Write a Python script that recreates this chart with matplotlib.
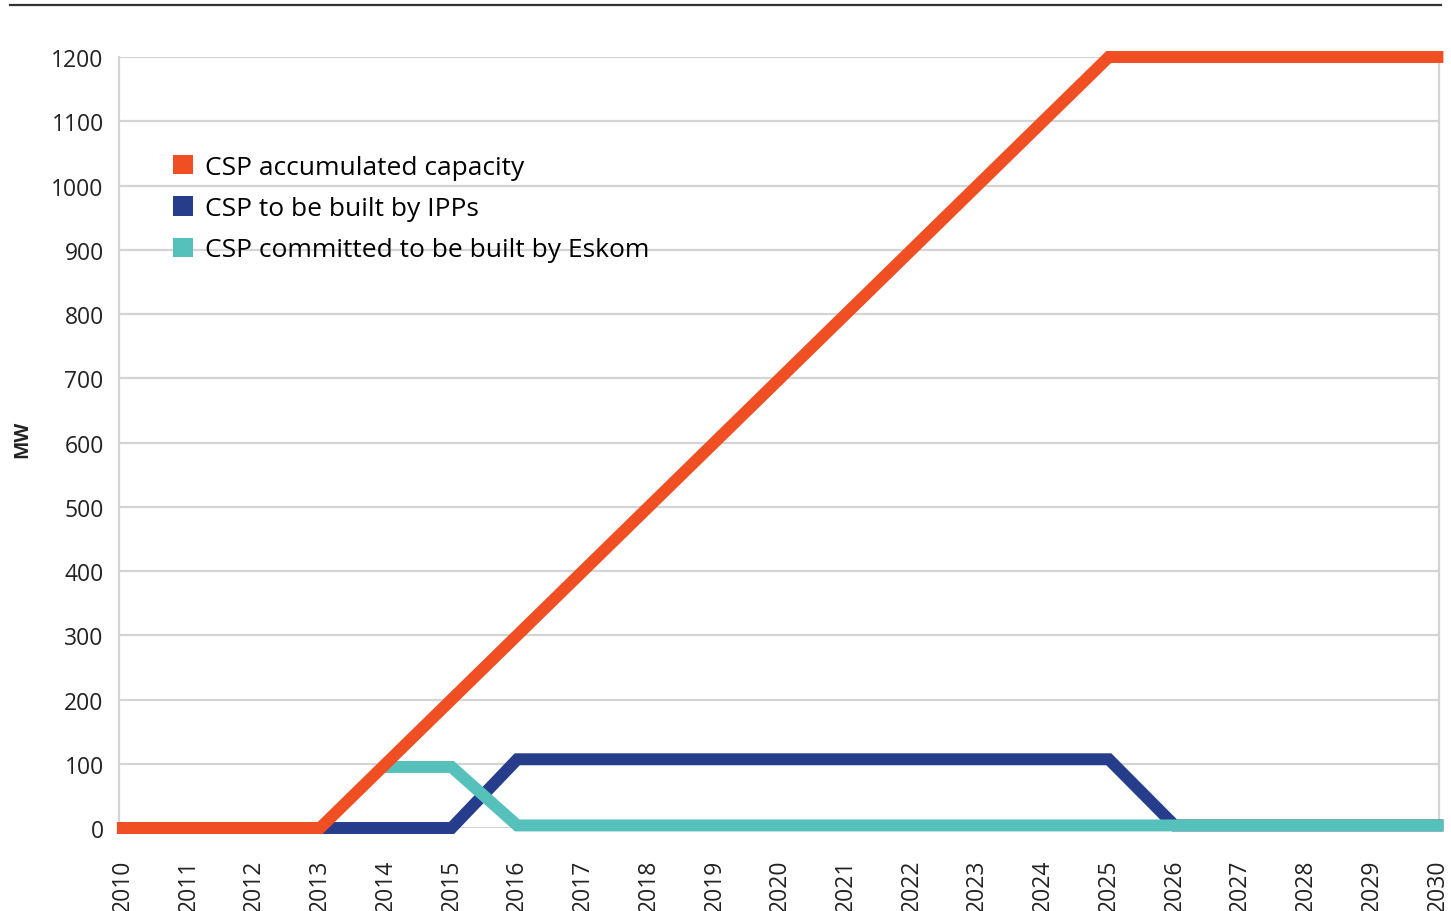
import matplotlib.pyplot as plt
from matplotlib.lines import Line2D
from matplotlib.patches import Patch

plt.rcParams['font.family'] = ['Open Sans', 'DejaVu Sans']

years = list(range(2010, 2031))
accumulated = [0, 0, 0, 0, 100, 200, 300, 400, 500, 600, 700, 800, 900,
               1000, 1100, 1200, 1200, 1200, 1200, 1200, 1200]
ipps = [0, 0, 0, 0, 0, 0, 107, 107, 107, 107, 107, 107, 107,
        107, 107, 107, 4, 4, 4, 4, 4]
eskom_years = list(range(2014, 2031))
eskom = [95, 95, 4, 4, 4, 4, 4, 4, 4, 4, 4, 4, 4, 4, 4, 4, 4]

labels = ['CSP accumulated capacity', 'CSP to be built by IPPs',
          'CSP committed to be built by Eskom']
colors = ['#F04E23', '#263D8C', '#55C1BA']

fig = plt.figure(figsize=(14.51, 9.12), dpi=100)
ax = fig.add_axes([0.082, 0.091, 0.910, 0.8454])

lw = 8.6
ax.plot(years, ipps, color=colors[1], lw=lw, solid_joinstyle='miter',
        clip_on=False, zorder=3)
ax.plot(eskom_years, eskom, color=colors[2], lw=lw, solid_joinstyle='miter',
        clip_on=False, zorder=4)
ax.plot(years, accumulated, color=colors[0], lw=lw, solid_joinstyle='miter',
        clip_on=False, zorder=5)

ax.set_xlim(2009.94, 2030.03)
ax.set_ylim(0, 1200)
ax.set_yticks(range(0, 1201, 100))
ax.set_xticks(years)
ax.set_xticklabels([str(y) for y in years], rotation=90)
ax.tick_params(axis='both', length=0, labelsize=16.5, colors='#222222')
ax.tick_params(axis='x', pad=22)
ax.tick_params(axis='y', pad=11)
ax.grid(axis='y', color='#d4d4d4', lw=1.6)
ax.set_axisbelow(True)
for side in ['top', 'bottom']:
    ax.spines[side].set_visible(False)
for side in ['left', 'right']:
    ax.spines[side].set_color('#d4d4d4')
    ax.spines[side].set_linewidth(1.6)

fig.text(0.015, 0.518, 'MW', rotation=90, ha='center', va='center',
         fontsize=14, fontweight='bold', color='#222222')

handles = [Patch(facecolor=c, edgecolor='none') for c in colors]
leg = ax.legend(handles, labels, loc='upper left', bbox_to_anchor=(0.033, 0.887),
                frameon=False, fontsize=19, handlelength=0.75, handleheight=0.75,
                handletextpad=0.45, labelspacing=0.62, borderaxespad=0)
leg.set_zorder(6)

# rule across the top of the page
fig.add_artist(Line2D([0.007, 0.993], [0.993, 0.993], color='#333333', lw=1.6))

fig.savefig('out.png', dpi=100)
